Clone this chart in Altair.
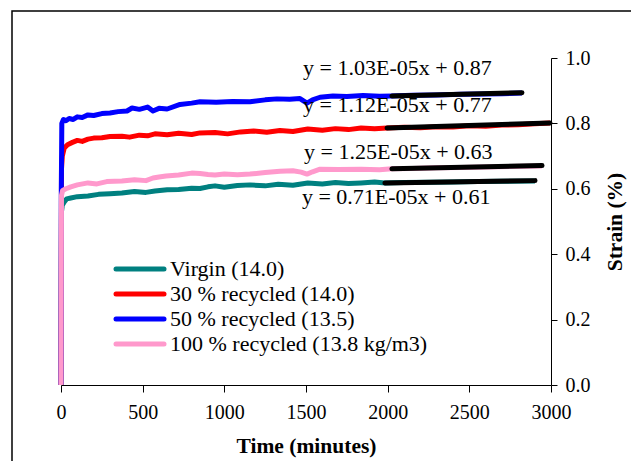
import altair as alt
import pandas as pd

# ---- data ----
series_names = ["Virgin (14.0)", "30 % recycled (14.0)", "50 % recycled (13.5)", "100 % recycled (13.8 kg/m3)"]
series_colors = ["#008080", "#FF0000", "#0000FF", "#FF99CC"]

virgin_t = [0, 3, 8, 20, 35, 60, 100, 165, 230, 300, 373, 450, 520, 575, 650, 720, 800, 851, 900, 943, 1000, 1080, 1157, 1250, 1330, 1420, 1511, 1600, 1680, 1760, 1837, 1920, 1983, 2100, 2250, 2400, 2550, 2700, 2902]
virgin_v = [0, 0.53, 0.55, 0.56, 0.569, 0.572, 0.576, 0.578, 0.583, 0.585, 0.587, 0.592, 0.589, 0.593, 0.597, 0.598, 0.602, 0.601, 0.606, 0.609, 0.605, 0.61, 0.612, 0.609, 0.614, 0.611, 0.618, 0.615, 0.619, 0.616, 0.618, 0.621, 0.618, 0.619, 0.62, 0.621, 0.622, 0.623, 0.624]

r30_t = [0, 3, 8, 20, 40, 70, 100, 130, 165, 200, 250, 300, 373, 420, 480, 530, 575, 650, 720, 800, 851, 943, 1020, 1100, 1180, 1260, 1340, 1420, 1511, 1600, 1680, 1760, 1837, 1920, 1996, 2100, 2200, 2300, 2400, 2500, 2600, 2700, 2800, 2900, 2994]
r30_v = [0, 0.66, 0.70, 0.725, 0.735, 0.742, 0.748, 0.745, 0.752, 0.755, 0.756, 0.76, 0.761, 0.758, 0.764, 0.762, 0.768, 0.765, 0.77, 0.766, 0.771, 0.772, 0.768, 0.774, 0.777, 0.773, 0.778, 0.775, 0.783, 0.779, 0.784, 0.781, 0.786, 0.784, 0.786, 0.788, 0.787, 0.79, 0.789, 0.793, 0.791, 0.795, 0.796, 0.799, 0.801]

r50_t = [0, 2, 5, 15, 30, 50, 75, 100, 130, 165, 200, 250, 300, 350, 404, 435, 480, 530, 563, 600, 650, 729, 800, 851, 950, 1050, 1157, 1250, 1322, 1400, 1463, 1506, 1540, 1586, 1665, 1750, 1850, 1950, 2026, 2150, 2300, 2450, 2600, 2700, 2822]
r50_v = [0, 0.60, 0.80, 0.812, 0.808, 0.815, 0.812, 0.82, 0.818, 0.826, 0.824, 0.83, 0.832, 0.836, 0.838, 0.847, 0.843, 0.85, 0.838, 0.846, 0.844, 0.858, 0.862, 0.866, 0.865, 0.867, 0.866, 0.872, 0.875, 0.874, 0.876, 0.862, 0.872, 0.880, 0.884, 0.882, 0.885, 0.883, 0.884, 0.886, 0.887, 0.889, 0.890, 0.891, 0.893]

r100_t = [0, 3, 10, 30, 60, 100, 165, 220, 280, 373, 450, 520, 563, 600, 643, 720, 800, 851, 900, 943, 1000, 1080, 1157, 1250, 1341, 1420, 1470, 1506, 1540, 1586, 1700, 1837, 1950, 2026, 2150, 2300, 2450, 2600, 2750, 2945]
r100_v = [0, 0.58, 0.595, 0.60, 0.606, 0.612, 0.618, 0.615, 0.622, 0.624, 0.628, 0.625, 0.633, 0.636, 0.639, 0.642, 0.648, 0.647, 0.644, 0.642, 0.645, 0.643, 0.645, 0.65, 0.654, 0.655, 0.651, 0.645, 0.652, 0.66, 0.659, 0.66, 0.658, 0.661, 0.662, 0.664, 0.665, 0.667, 0.668, 0.67]

# trend line end points (start, end) per series
trend_t0 = [1983, 1996, 2026, 2026]
trend_t1 = [2902, 2994, 2822, 2945]
trend_v0 = [0.618, 0.786, 0.884, 0.661]
trend_v1 = [0.625, 0.801, 0.894, 0.671]

eq_labels = ["y = 1.03E-05x + 0.87", "y = 1.12E-05x + 0.77", "y = 1.25E-05x + 0.63", "y = 0.71E-05x + 0.61"]
eq_t = [1482, 1482, 1488, 1475]
eq_v = [0.969, 0.856, 0.7125, 0.575]

x_ticks = [0, 500, 1000, 1500, 2000, 2500, 3000]
y_ticks = [0.0, 0.2, 0.4, 0.6, 0.8, 1.0]

FONT = "Liberation Serif"
W, H = 490, 327

xs = alt.Scale(domain=[0, 3000], nice=False)
ys = alt.Scale(domain=[0, 1], nice=False)

all_t = [virgin_t, r30_t, r50_t, r100_t]
all_v = [virgin_v, r30_v, r50_v, r100_v]

x_axis = alt.Axis(
    values=x_ticks, format="d", title="Time (minutes)", grid=False, orient="bottom",
    labelFont=FONT, labelFontSize=20, labelColor="black", labelPadding=10,
    titleFont=FONT, titleFontSize=21.5, titleFontWeight="bold", titleColor="black", titlePadding=13,
    tickSize=7, tickColor="black", domainColor="black", labelFlush=False)
y_axis = alt.Axis(
    values=y_ticks, format=".1f", title="Strain (%)", grid=False, orient="right",
    labelFont=FONT, labelFontSize=20, labelColor="black", labelPadding=8,
    titleFont=FONT, titleFontSize=21.5, titleFontWeight="bold", titleColor="black", titlePadding=14,
    titleAngle=270, titleBaseline="top",
    tickSize=6, tickColor="black", domainColor="black", labelFlush=False)

layers = []
# outer frame
frame = alt.Chart(pd.DataFrame({"a": [0]})).mark_rect(
    fill=None, stroke="black", strokeWidth=1.5
).encode(x=alt.value(-49), x2=alt.value(571), y=alt.value(-47), y2=alt.value(440))
layers.append(frame)

for i, name in enumerate(series_names):
    df = pd.DataFrame({"t": all_t[i], "v": all_v[i]})
    ln = alt.Chart(df).mark_line(color=series_colors[i], strokeWidth=5, strokeJoin="round").encode(
        x=alt.X("t:Q", scale=xs, axis=x_axis),
        y=alt.Y("v:Q", scale=ys, axis=y_axis),
        order="t:Q",
    )
    layers.append(ln)

tr = pd.DataFrame({"t0": trend_t0, "t1": trend_t1, "v0": trend_v0, "v1": trend_v1})
trend = alt.Chart(tr).mark_rule(color="black", strokeWidth=5, strokeCap="round").encode(
    x=alt.X("t0:Q", scale=xs, axis=x_axis), x2="t1:Q",
    y=alt.Y("v0:Q", scale=ys, axis=y_axis), y2="v1:Q")
layers.append(trend)

eq = pd.DataFrame({"label": eq_labels, "t": eq_t, "v": eq_v})
eqs = alt.Chart(eq).mark_text(align="left", baseline="middle", font=FONT, fontSize=22, color="black").encode(
    x=alt.X("t:Q", scale=xs, axis=x_axis), y=alt.Y("v:Q", scale=ys, axis=y_axis), text="label:N")
layers.append(eqs)

# manual legend (pixel placement inside the plot)
leg_row_y = [211, 236, 261, 286]
for i, name in enumerate(series_names):
    one = pd.DataFrame({"name": [name]})
    layers.append(alt.Chart(one).mark_rule(strokeWidth=5, strokeCap="round", color=series_colors[i]).encode(
        x=alt.value(55), x2=alt.value(103), y=alt.value(leg_row_y[i])))
    layers.append(alt.Chart(one).mark_text(align="left", baseline="middle", font=FONT, fontSize=22, color="black").encode(
        x=alt.value(109), y=alt.value(leg_row_y[i]), text="name:N"))

chart = alt.layer(*layers).properties(
    width=W, height=H,
    background="white",
    autosize=alt.AutoSizeParams(type="none"),
    padding={"left": 53, "top": 50, "right": 80, "bottom": 76},
).configure_view(strokeWidth=0, stroke=None)

chart.save("out.html", embed_options={"renderer": "svg", "actions": False})
